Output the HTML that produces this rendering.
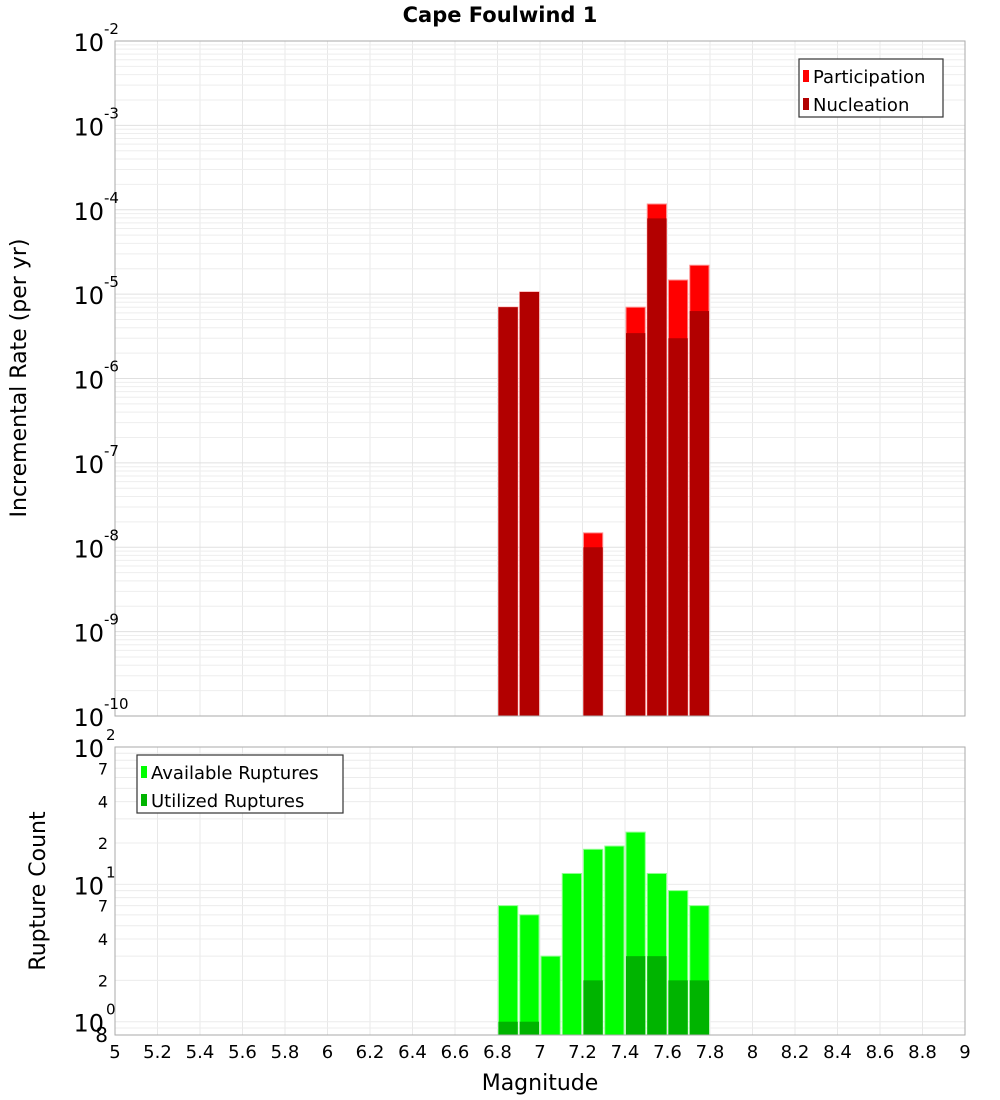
<!DOCTYPE html>
<html><head><meta charset="utf-8"><style>
body{margin:0;background:#fff}
svg{display:block;font-family:"DejaVu Sans","Liberation Sans",sans-serif}
</style></head><body>
<svg id="chart" width="1000" height="1100" viewBox="0 0 1000 1100" xmlns="http://www.w3.org/2000/svg">
<text x="500" y="22" text-anchor="middle" font-size="21" font-weight="bold">Cape Foulwind 1</text>
<g id="topg"></g><g id="botg"></g>
</svg>
<script>
const mags = [6.85, 6.95, 7.05, 7.15, 7.25, 7.35, 7.45, 7.55, 7.65, 7.75];
const participation = [7e-6, 1.06e-5, 0, 0, 1.48e-8, 0, 7e-6, 1.17e-4, 1.47e-5, 2.2e-5];
const nucleation = [7e-6, 1.06e-5, 0, 0, 1e-8, 0, 3.45e-6, 7.9e-5, 3e-6, 6.3e-6];
const available = [7, 6, 3, 12, 18, 19, 24, 12, 9, 7];
const utilized = [1, 1, 0, 0, 2, 0, 3, 3, 2, 2];
const xTicks = [5,5.2,5.4,5.6,5.8,6,6.2,6.4,6.6,6.8,7,7.2,7.4,7.6,7.8,8,8.2,8.4,8.6,8.8,9];
const topExps = [-2,-3,-4,-5,-6,-7,-8,-9,-10];
const botMinor = [2,4,7,20,40,70];

const NS="http://www.w3.org/2000/svg";
const L=115,R=965;
const x=m=>L+(m-5)/4*(R-L);
const T0=41,T1=716,yT=v=>T0+(-2-Math.log10(v))/8*(T1-T0);
const B0=747,B1=1035,yB=v=>B0+(2-Math.log10(v))/(2-Math.log10(0.8))*(B1-B0);
function el(p,t,a,txt){const e=document.createElementNS(NS,t);for(const k in a)e.setAttribute(k,a[k]);if(txt!=null)e.textContent=txt;p.appendChild(e);return e;}
const gTop=document.getElementById('topg'),gBot=document.getElementById('botg');

function frame(g,y0,y1,name){
  const grid=el(g,'g',{});
  
  
  for(let i=1;i<20;i++){const xx=x(5+i*0.2);el(grid,'line',{x1:xx,x2:xx,y1:y0,y2:y1,stroke:'#e8e8e8'});}
  return grid;
}
let tg=frame(gTop,T0,T1,'top');
for(let e=-10;e<-2;e++)for(let k=1;k<10;k++){const v=k*Math.pow(10,e);const yy=yT(v);el(tg,'line',{x1:L,x2:R,y1:yy,y2:yy,stroke:k==1?'#e0e0e0':'#eeeeee'});}
let bg=frame(gBot,B0,B1,'bottom');
[0.8,0.9,1,2,3,4,5,6,7,8,9,10,20,30,40,50,60,70,80,90].forEach(v=>{const yy=yB(v);el(bg,'line',{x1:L,x2:R,y1:yy,y2:yy,stroke:'#ececec'});});

const bw=(R-L)/40;
mags.forEach((m,i)=>{
  const x0=x(m)-bw/2+1,w=bw-2;
  if(participation[i]>0){const yy=yT(participation[i]);
    const r=el(gTop,'rect',{x:x0,y:yy,width:w,height:T1-yy,fill:'#ff0000',stroke:'#ff9090','stroke-width':1});
    }
  if(nucleation[i]>0){const yy=yT(nucleation[i]);
    const r=el(gTop,'rect',{x:x0,y:yy,width:w,height:T1-yy,fill:'#b20000'});
    }
  if(available[i]>0){const yy=yB(available[i]);
    const r=el(gBot,'rect',{x:x0,y:yy,width:w,height:B1-yy,fill:'#00ff00',stroke:'#90ff90','stroke-width':1});
    }
  if(utilized[i]>0){const yy=yB(utilized[i]);
    const r=el(gBot,'rect',{x:x0,y:yy,width:w,height:B1-yy,fill:'#00b400'});
    }
});
el(gTop,'rect',{x:L,y:T0,width:R-L,height:T1-T0,fill:'none',stroke:'#aaaaaa'});
el(gBot,'rect',{x:L,y:B0,width:R-L,height:B1-B0,fill:'none',stroke:'#aaaaaa'});

topExps.forEach(e=>{const yy=yT(Math.pow(10,e));
  const t=el(gTop,'text',{x:104,y:yy+10,'text-anchor':'end','font-size':24},'10');
  
  const s=el(gTop,'text',{x:104,y:yy-7,'font-size':15},String(e));
  
});
[[100,'2'],[10,'1'],[1,'0']].forEach(([v,e])=>{const yy=yB(v);
  const t=el(gBot,'text',{x:104,y:yy+10,'text-anchor':'end','font-size':24},'10');
  
  const s=el(gBot,'text',{x:106,y:yy-7,'font-size':15},e);
  
});
botMinor.forEach(v=>{const t=el(gBot,'text',{x:108,y:yB(v)+6,'text-anchor':'end','font-size':16},String(v).charAt(0));
  });
{const t=el(gBot,'text',{x:108,y:1042,'text-anchor':'end','font-size':20},'8');}
xTicks.forEach(v=>{const t=el(gBot,'text',{x:x(v),y:1058,'text-anchor':'middle','font-size':18},String(Math.round(v*10)/10));
  });
{let t=el(gBot,'text',{x:540,y:1090,'text-anchor':'middle','font-size':22},'Magnitude');
t=el(gTop,'text',{x:0,y:0,transform:'translate(26,378) rotate(-90)','text-anchor':'middle','font-size':22},'Incremental Rate (per yr)');
t=el(gBot,'text',{x:0,y:0,transform:'translate(45,891) rotate(-90)','text-anchor':'middle','font-size':22},'Rupture Count');}
function legend(g,x0,y0,w,items,name){
  const lg=el(g,'g',{});
  el(lg,'rect',{x:x0,y:y0,width:w,height:58,fill:'#fff',stroke:'#333','stroke-width':1.2});
  items.forEach(([c,txt],i)=>{const yy=y0+18+i*28;
    el(lg,'rect',{x:x0+4,y:yy-7,width:6,height:12,fill:c});
    const t=el(lg,'text',{x:x0+14,y:yy+6,'font-size':18},txt);
    });
}
legend(gTop,799,59,144,[['#ff0000','Participation'],['#b20000','Nucleation']],'top-legend');
legend(gBot,137,755,206,[['#00ff00','Available Ruptures'],['#00b400','Utilized Ruptures']],'bottom-legend');
</script>
</body></html>
